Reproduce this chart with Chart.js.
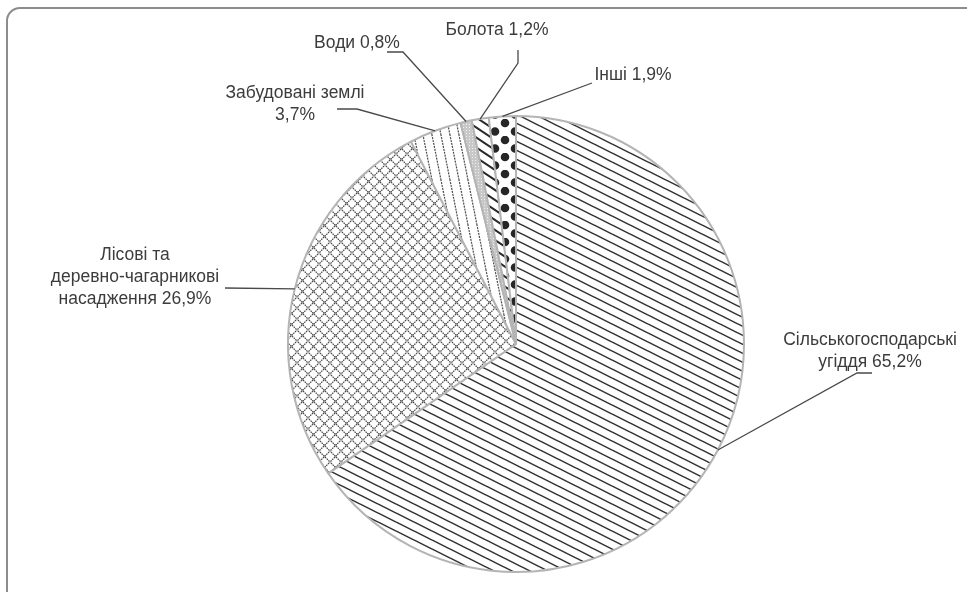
<!DOCTYPE html>
<html lang="uk">
<head>
<meta charset="UTF-8">
<title>Структура земельного фонду</title>
<script src="https://cdn.jsdelivr.net/npm/chart.js@4/dist/chart.umd.min.js"></script>
<style>
    * { margin: 0; padding: 0; }
    body { width: 967px; height: 592px; overflow: hidden; background: #fff; position: relative; }
    #frame {
        position: absolute; left: 6px; top: 7px; width: 990px; height: 600px;
        border: 2px solid #8c8c8c; border-radius: 14px;
    }
    #chart { position: absolute; left: 0; top: 0; }
</style>
</head>
<body>
<div id="frame"></div>
<canvas id="chart" width="967" height="592"></canvas>
<script>
    // дані
    const categories = ['Сільськогосподарські угіддя', 'Лісові та деревно-чагарникові насадження',
        'Забудовані землі', 'Води', 'Болота', 'Інші']
    const values = [65.2, 26.9, 3.7, 0.8, 1.2, 1.9]
    // як підписи розбиті на рядки (значення дописується в кінець останнього рядка)
    const nameLines = [
        ['Сільськогосподарські', 'угіддя'],
        ['Лісові та', 'деревно-чагарникові', 'насадження'],
        ['Забудовані землі', ''],
        ['Води'],
        ['Болота'],
        ['Інші']
    ]

    // розташування підписів (центр першого рядка) і зламів виносок
    const labelPos = [[870, 340], [135, 255], [295, 93], [357, 43], [497, 30], [633, 75]]
    const leaderPts = [
        [[872, 373], [857, 373]],
        [[225, 288]],
        [[337, 109], [357, 109]],
        [[387, 52], [403, 52]],
        [[518, 50], [518, 63]],
        [[592, 83]]
    ]

    function fmt(v) {
        return v.toFixed(1).replace('.', ',') + '%'
    }

    function makeTile(w, h, draw) {
        const c = document.createElement('canvas')
        c.width = w
        c.height = h
        const g = c.getContext('2d')
        g.fillStyle = '#fff'
        g.fillRect(0, 0, w, h)
        draw(g, w, h)
        return g.createPattern(c, 'repeat')
    }

    // діагональні лінії "\"
    function slashTile(w, h, color, width) {
        return makeTile(w, h, function (g) {
            g.strokeStyle = color
            g.lineWidth = width
            g.beginPath()
            g.moveTo(-w, -h); g.lineTo(2 * w, 2 * h)
            g.moveTo(-w, 0); g.lineTo(w, 2 * h)
            g.moveTo(0, -h); g.lineTo(2 * w, h)
            g.stroke()
        })
    }

    const patterns = [
        slashTile(18, 9, '#333', 1.5),
        makeTile(11, 11, function (g) {
            g.strokeStyle = '#4a4a4a'
            g.lineWidth = 1.2
            g.setLineDash([1.6, 0.8])
            g.beginPath()
            for (let k = -1; k <= 1; k++) {
                g.moveTo(k * 11 - 11, -11); g.lineTo(k * 11 + 22, 22)
                g.moveTo(k * 11 + 22, -11); g.lineTo(k * 11 - 11, 22)
            }
            g.stroke()
        }),
        makeTile(9, 45, function (g) {
            g.strokeStyle = '#4a4a4a'
            g.lineWidth = 1.2
            g.setLineDash([2, 1])
            g.beginPath()
            for (let k = -1; k <= 1; k++) {
                g.moveTo(k * 9 - 9, -45)
                g.lineTo(k * 9 + 18, 90)
            }
            g.stroke()
        }),
        makeTile(3, 3, function (g) {
            g.fillStyle = '#c8c8c8'
            g.fillRect(0, 0, 3, 3)
            g.fillStyle = '#f0f0f0'
            g.fillRect(1, 1, 1, 1)
        }),
        slashTile(15, 10, '#2a2a2a', 2),
        makeTile(20, 17, function (g) {
            g.fillStyle = '#262626'
            g.beginPath()
            g.arc(5, 4, 4.3, 0, Math.PI * 2)
            g.arc(15, 12.5, 4.3, 0, Math.PI * 2)
            g.fill()
        })
    ]

    const labelsPlugin = {
        id: 'pieLabels',
        afterDraw(chart) {
            const ctx = chart.ctx
            const arcs = chart.getDatasetMeta(0).data
            ctx.save()
            ctx.strokeStyle = '#4a4a4a'
            ctx.lineWidth = 1.3
            arcs.forEach(function (arc, i) {
                const p = arc.getProps(['x', 'y', 'startAngle', 'endAngle', 'outerRadius'], true)
                const mid = (p.startAngle + p.endAngle) / 2
                const ex = p.x + Math.cos(mid) * p.outerRadius
                const ey = p.y + Math.sin(mid) * p.outerRadius
                const pts = leaderPts[i]
                ctx.beginPath()
                ctx.moveTo(pts[0][0], pts[0][1])
                for (let k = 1; k < pts.length; k++) ctx.lineTo(pts[k][0], pts[k][1])
                ctx.lineTo(ex, ey)
                ctx.stroke()
            })
            ctx.fillStyle = '#3c3c3c'
            ctx.font = '17.5px "Liberation Sans", Arial, sans-serif'
            ctx.textAlign = 'center'
            ctx.textBaseline = 'middle'
            nameLines.forEach(function (lines, i) {
                const txt = lines.slice()
                const last = txt.length - 1
                txt[last] = (txt[last] ? txt[last] + ' ' : '') + fmt(values[i])
                txt.forEach(function (t, j) {
                    ctx.fillText(t, labelPos[i][0], labelPos[i][1] + j * 22)
                })
            })
            ctx.restore()
        }
    }

    new Chart(document.getElementById('chart'), {
        type: 'pie',
        data: {
            labels: categories,
            datasets: [{
                data: values,
                backgroundColor: patterns,
                borderColor: '#b4b4b4',
                borderWidth: 2,
                hoverOffset: 0
            }]
        },
        options: {
            responsive: false,
            animation: false,
            devicePixelRatio: 1,
            events: [],
            layout: { padding: { top: 115, bottom: 19, left: 287, right: 222 } },
            plugins: {
                legend: { display: false },
                tooltip: { enabled: false }
            }
        },
        plugins: [labelsPlugin]
    })
</script>
</body>
</html>
